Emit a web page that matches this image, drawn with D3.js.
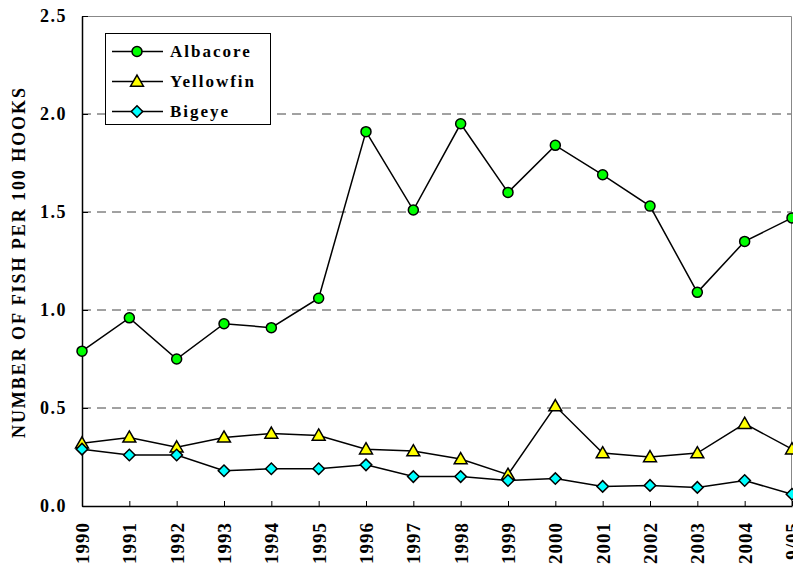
<!DOCTYPE html>
<html>
<head>
<meta charset="utf-8">
<script src="https://cdn.jsdelivr.net/npm/d3@7"></script>
<style>
  body { margin: 0; background: #fff; }
  text { font-family: "Times New Roman", "Liberation Serif", serif; font-weight: bold; }
</style>
</head>
<body>
<div id="chart"></div>
<script>
// data
var years = ["1990", "1991", "1992", "1993", "1994", "1995", "1996", "1997",
             "1998", "1999", "2000", "2001", "2002", "2003", "2004", "9/05"];
var albacore  = [0.79, 0.96, 0.75, 0.93, 0.91, 1.06, 1.91, 1.51, 1.95, 1.60, 1.84, 1.69, 1.53, 1.09, 1.35, 1.47];
var yellowfin = [0.32, 0.35, 0.30, 0.35, 0.37, 0.36, 0.29, 0.28, 0.24, 0.16, 0.51, 0.27, 0.25, 0.27, 0.42, 0.29];
var bigeye    = [0.29, 0.26, 0.26, 0.18, 0.19, 0.19, 0.21, 0.15, 0.15, 0.13, 0.14, 0.10, 0.105, 0.095, 0.13, 0.06];
var yTicks = [0, 0.5, 1.0, 1.5, 2.0, 2.5];
var yTitle = "NUMBER OF FISH PER 100 HOOKS";

var series = [
    { name: "Albacore",  values: albacore,  fill: "#00ff00", shape: "circle" },
    { name: "Yellowfin", values: yellowfin, fill: "#ffff00", shape: "triangle" },
    { name: "Bigeye",    values: bigeye,    fill: "#00ffff", shape: "diamond" }
];

var W = 793, H = 567;
var pLeft = 82, pRight = 792, pTop = 16, pBottom = 506;

var svg = d3.select("#chart").append("svg")
    .attr("width", W)
    .attr("height", H);

var x = d3.scalePoint().domain(years).range([pLeft, pRight]);
var y = d3.scaleLinear().domain([0, 2.5]).range([pBottom, pTop]);

// dashed grid lines
svg.append("g")
    .selectAll("line")
    .data([0.5, 1.0, 1.5, 2.0])
    .enter().append("line")
    .attr("x1", pLeft).attr("x2", pRight)
    .attr("y1", function (d) { return y(d); })
    .attr("y2", function (d) { return y(d); })
    .attr("stroke", "#444")
    .attr("stroke-width", 1)
    .attr("stroke-dasharray", "9,6");

// top and right frame (gray)
svg.append("path")
    .attr("d", "M" + pLeft + "," + (pTop + 0.5) + "H" + (pRight - 0.5) + "V" + pBottom)
    .attr("fill", "none")
    .attr("stroke", "#888")
    .attr("stroke-width", 1);

// X axis
var xAxis = svg.append("g")
    .attr("transform", "translate(0," + pBottom + ")")
    .call(d3.axisBottom(x).tickSizeInner(-5).tickSizeOuter(0));
xAxis.select(".domain").attr("stroke", "#000").attr("stroke-width", 1.5);
xAxis.selectAll(".tick line").attr("stroke", "#000");
xAxis.selectAll("text")
    .attr("transform", "rotate(-90)")
    .attr("x", -16)
    .attr("y", 0)
    .attr("dy", "0.35em")
    .style("text-anchor", "end")
    .style("font-size", "19px")
    .style("letter-spacing", "1px")
    .attr("fill", "#000");

// Y axis
var yAxis = svg.append("g")
    .attr("transform", "translate(" + pLeft + ",0)")
    .call(d3.axisLeft(y).tickValues(yTicks).tickFormat(d3.format(".1f"))
        .tickSizeInner(-6).tickSizeOuter(0).tickPadding(15));
yAxis.select(".domain").attr("stroke", "#000").attr("stroke-width", 1.5);
yAxis.selectAll(".tick line").attr("stroke", "#000");
yAxis.selectAll("text")
    .style("font-size", "18px")
    .style("letter-spacing", "1.5px")
    .attr("fill", "#000");

// Y title
svg.append("text")
    .attr("transform", "translate(19," + 263 + ") rotate(-90)")
    .attr("text-anchor", "middle")
    .attr("dy", "0.35em")
    .attr("textLength", 350)
    .attr("lengthAdjust", "spacing")
    .style("font-size", "18px")
    .text(yTitle);

function marker(sel, shape, fill) {
    if (shape === "circle") {
        sel.append("circle").attr("r", 5);
    } else if (shape === "triangle") {
        sel.append("path").attr("d", d3.symbol(d3.symbolTriangle).size(72)())
            .attr("transform", "translate(0,1)");
    } else {
        sel.append("path").attr("d", d3.symbol(d3.symbolSquare).size(66)())
            .attr("transform", "rotate(45)");
    }
    sel.selectAll("circle,path")
        .attr("fill", fill)
        .attr("stroke", "#000")
        .attr("stroke-width", 1.5);
}

var line = d3.line()
    .x(function (d, i) { return x(years[i]); })
    .y(function (d) { return y(d); });

series.forEach(function (s) {
    var g = svg.append("g");
    g.append("path")
        .datum(s.values)
        .attr("d", line)
        .attr("fill", "none")
        .attr("stroke", "#000")
        .attr("stroke-width", 1.5);
    g.selectAll("g.pt")
        .data(s.values)
        .enter().append("g")
        .attr("class", "pt")
        .attr("transform", function (d, i) { return "translate(" + x(years[i]) + "," + y(d) + ")"; })
        .each(function () { marker(d3.select(this), s.shape, s.fill); });
});

// legend
var legend = svg.append("g");
legend.append("rect")
    .attr("x", 105.5).attr("y", 33.5)
    .attr("width", 165).attr("height", 91)
    .attr("fill", "#fff")
    .attr("stroke", "#000")
    .attr("stroke-width", 1);
series.forEach(function (s, i) {
    var ly = 51.5 + i * 30;
    var row = legend.append("g").attr("transform", "translate(0," + ly + ")");
    row.append("line")
        .attr("x1", 112).attr("x2", 163)
        .attr("stroke", "#000").attr("stroke-width", 1.5);
    var m = row.append("g").attr("transform", "translate(137,0)");
    marker(m, s.shape, s.fill);
    row.append("text")
        .attr("x", 170)
        .attr("dy", "0.35em")
        .style("font-size", "17px")
        .style("letter-spacing", "2px")
        .text(s.name);
});
</script>
</body>
</html>
